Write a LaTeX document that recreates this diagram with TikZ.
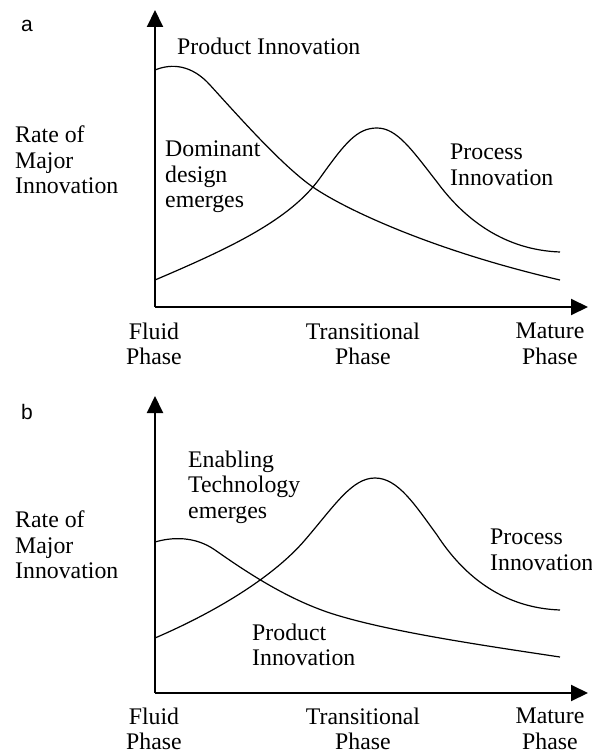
\documentclass[tikz,border=0pt]{standalone}
\usepackage{fontspec}
\setmainfont{Liberation Serif}
\setsansfont{Liberation Sans}
\usepackage{tikz}
\usetikzlibrary{positioning, arrows.meta}

\begin{document}
\begin{tikzpicture}[x=1bp, y=-1bp, every node/.style={align=center, inner sep=0pt},
    txt/.style={font=\fontsize{23.8bp}{25.5bp}\selectfont},
    lefttxt/.style={txt, align=left, anchor=west},
    panel/.style={font=\sffamily\fontsize{21bp}{24bp}\selectfont},
    axis/.style={line width=2bp, -{Triangle[length=17bp, width=16bp]}},
    curve/.style={line width=1.2bp}]
  \useasboundingbox (0,0) rectangle (592,755);

  % Panel a
  \node[panel] (LA) at (27,26) {a};
  \coordinate (OA) at (155,307);
  \coordinate (YA) at (155,10);
  \coordinate (XA) at (588,307);
  \draw[axis] (OA) -- (YA);
  \draw[axis] (OA) -- (XA);

  \node[lefttxt] (RA) at (15,160) {Rate of\\Major\\Innovation};
  \node[lefttxt] (PdA) at (177,46) {Product Innovation};
  \node[lefttxt] (DA) at (165,177) {Dominant\\design\\emerges};
  \node[lefttxt] (PcA) at (450,165) {Process\\Innovation};
  \node[txt] (FA) at (154,344) {Fluid\\Phase};
  \node[txt] (TA) at (363,344) {Transitional\\Phase};
  \node[txt] (MA) at (550,344) {Mature\\Phase};

  % Curves a
  \draw[curve] (155,70) .. controls (172,63) and (192,65) .. (210,85)
    .. controls (240,118) and (280,163) .. (310,185)
    .. controls (340,207) and (430,250) .. (560,280);
  \draw[curve] (155,280) .. controls (230,248) and (290,220) .. (320,178)
    .. controls (345,143) and (357,128) .. (377,128)
    .. controls (397,128) and (412,150) .. (437,182)
    .. controls (465,220) and (505,250) .. (560,252);

  % Panel b
  \node[panel] (LB) at (27,412) {b};
  \coordinate (OB) at (155,693);
  \coordinate (YB) at (155,396);
  \coordinate (XB) at (588,693);
  \draw[axis] (OB) -- (YB);
  \draw[axis] (OB) -- (XB);

  \node[lefttxt] (RB) at (15,545) {Rate of\\Major\\Innovation};
  \node[lefttxt] (EB) at (188,487) {Enabling\\Technology\\emerges};
  \node[lefttxt] (PdB) at (252,645) {Product\\Innovation};
  \node[lefttxt] (PcB) at (490,550) {Process\\Innovation};
  \node[txt] (FB) at (154,729) {Fluid\\Phase};
  \node[txt] (TB) at (363,729) {Transitional\\Phase};
  \node[txt] (MB) at (550,729) {Mature\\Phase};

  % Curves b
  \draw[curve] (155,542) .. controls (172,537) and (195,536) .. (215,550)
    .. controls (245,571) and (285,598) .. (330,613)
    .. controls (385,631) and (480,645) .. (560,657);
  \draw[curve] (155,638) .. controls (220,610) and (275,575) .. (305,540)
    .. controls (335,505) and (352,478) .. (375,478)
    .. controls (398,478) and (415,505) .. (437,535)
    .. controls (465,578) and (505,608) .. (560,610);
\end{tikzpicture}
\end{document}
